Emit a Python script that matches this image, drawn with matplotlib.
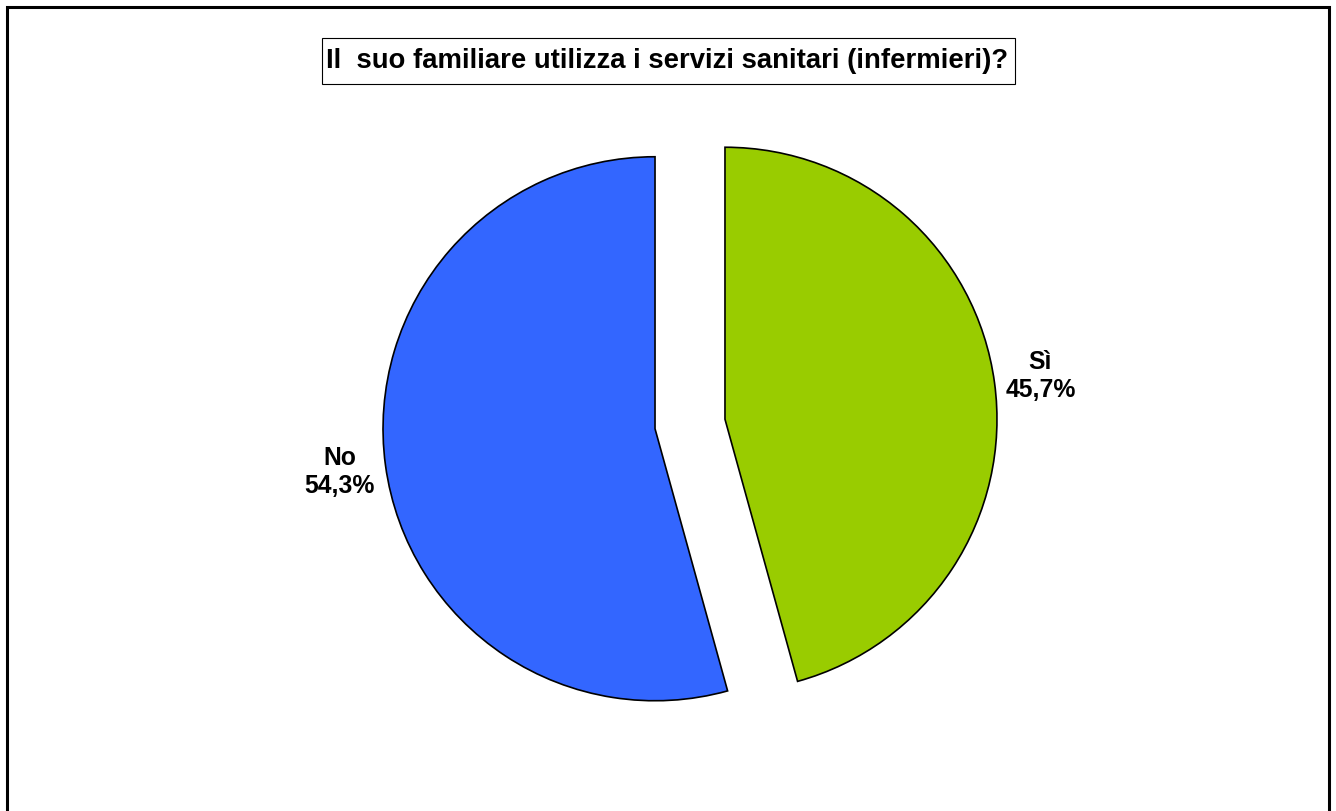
import matplotlib.pyplot as plt
from matplotlib.patches import Rectangle

plt.rcParams['font.family'] = ['Liberation Sans', 'DejaVu Sans']

# Survey answers (percent)
labels = ['Sì', 'No']
values = [45.7, 54.3]
colors = ['#99CC00', '#3366FF']
title = 'Il  suo familiare utilizza i servizi sanitari (infermieri)?'

W, H = 1336, 811
fig = plt.figure(figsize=(W / 100, H / 100), dpi=100)
ax = fig.add_axes([0, 0, 1, 1])
ax.set_xlim(0, W)
ax.set_ylim(0, H)
ax.set_axis_off()

# outer chart frame (runs off the bottom edge)
fig.patches.append(Rectangle((6.5 / W, -0.05), (1328.5 - 6.5) / W, 1.05 - 7.5 / H,
                             transform=fig.transFigure, fill=False,
                             edgecolor='black', linewidth=2.2))

pie_labels = [f'{lab}\n{v:.1f}%'.replace('.', ',') for lab, v in zip(labels, values)]
radius = 272
wedges, texts = ax.pie(values, labels=pie_labels, colors=colors,
                       startangle=90, counterclock=False,
                       center=(690, H - 424), radius=radius,
                       explode=[35.3, 35.3], labeldistance=1.17,
                       wedgeprops=dict(edgecolor='black', linewidth=1.2),
                       textprops=dict(fontsize=17.8, fontweight='bold',
                                      multialignment='center'))
for t in texts:
    t.set_horizontalalignment('center')
ax.set_xlim(0, W)
ax.set_ylim(0, H)
ax.set_aspect('equal')

# title with its thin box
fig.patches.append(Rectangle((321.5 / W, 1 - 83.5 / H), 693 / W, 45 / H,
                             transform=fig.transFigure, facecolor='white',
                             edgecolor='black', linewidth=0.8))
fig.text(667.5 / W, 1 - 60.5 / H, title, ha='center', va='center',
         fontsize=19.8, fontweight='bold')

fig.savefig('out.png', dpi=100)
